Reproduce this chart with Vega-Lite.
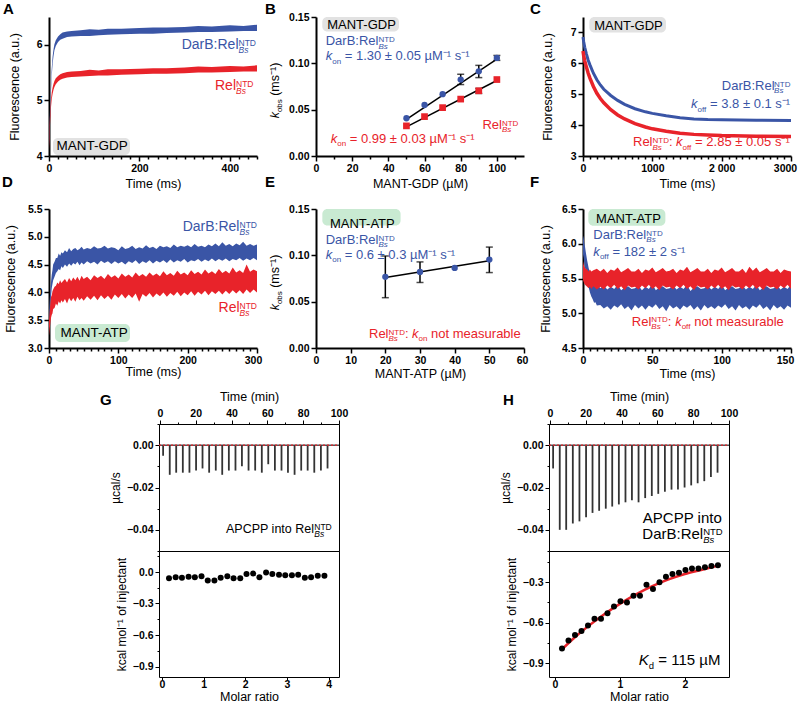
{
"$schema": "https://vega.github.io/schema/vega-lite/v6.json",
"padding": {"left": 2, "top": 2, "right": 0, "bottom": 0},
"background": "white",
"config": {
 "font": "Liberation Sans",
 "view": {"stroke": null},
 "axis": {"domainColor":"#000000","domainWidth":2,"tickColor":"#000000","tickWidth":1.5,"tickSize":5,"labelFont":"Liberation Sans","labelFontWeight":"bold","labelFontSize":10.5,"labelColor":"#000000","labelPadding":2,"labelFlush":false,"labelOverlap":false,"titleFont":"Liberation Sans","titleFontWeight":"normal","titleFontSize":12.5,"titleColor":"#000000","grid":false,"titlePadding":4},
 "title": {"font":"Liberation Sans","fontWeight":"bold","fontSize":15,"anchor":"start","frame":"group","color":"#000000","offset":0,"baseline":"alphabetic"},
 "text": {"font":"Liberation Sans"}
},
"datasets": {
 "Ab": [{"x":0,"y":4.18,"y2":4.32},{"x":2,"y":4.62,"y2":4.78},{"x":4,"y":5.08,"y2":5.22},{"x":6,"y":5.44,"y2":5.57},{"x":8,"y":5.66,"y2":5.79},{"x":10,"y":5.8,"y2":5.92},{"x":12,"y":5.9,"y2":6.01},{"x":15,"y":5.98,"y2":6.08},{"x":20,"y":6.05,"y2":6.15},{"x":25,"y":6.09,"y2":6.19},{"x":30,"y":6.11,"y2":6.22},{"x":40,"y":6.14,"y2":6.24},{"x":50,"y":6.15,"y2":6.25},{"x":70,"y":6.16,"y2":6.26},{"x":90,"y":6.16,"y2":6.28},{"x":110,"y":6.17,"y2":6.27},{"x":130,"y":6.18,"y2":6.29},{"x":160,"y":6.19,"y2":6.29},{"x":200,"y":6.2,"y2":6.3},{"x":230,"y":6.2,"y2":6.31},{"x":260,"y":6.21,"y2":6.31},{"x":300,"y":6.22,"y2":6.32},{"x":330,"y":6.23,"y2":6.34},{"x":360,"y":6.23,"y2":6.33},{"x":400,"y":6.24,"y2":6.35},{"x":430,"y":6.25,"y2":6.34},{"x":460,"y":6.25,"y2":6.36}],
 "Ar": [{"x":0,"y":4.12,"y2":4.3},{"x":2,"y":4.52,"y2":4.7},{"x":4,"y":4.84,"y2":4.98},{"x":6,"y":5.02,"y2":5.14},{"x":8,"y":5.12,"y2":5.23},{"x":10,"y":5.19,"y2":5.3},{"x":12,"y":5.24,"y2":5.35},{"x":15,"y":5.29,"y2":5.4},{"x":20,"y":5.34,"y2":5.44},{"x":25,"y":5.37,"y2":5.47},{"x":30,"y":5.39,"y2":5.49},{"x":40,"y":5.41,"y2":5.51},{"x":50,"y":5.42,"y2":5.52},{"x":70,"y":5.43,"y2":5.53},{"x":90,"y":5.44,"y2":5.55},{"x":110,"y":5.45,"y2":5.54},{"x":130,"y":5.45,"y2":5.56},{"x":160,"y":5.46,"y2":5.56},{"x":200,"y":5.47,"y2":5.57},{"x":230,"y":5.48,"y2":5.58},{"x":260,"y":5.48,"y2":5.58},{"x":300,"y":5.49,"y2":5.59},{"x":330,"y":5.5,"y2":5.61},{"x":360,"y":5.5,"y2":5.6},{"x":400,"y":5.51,"y2":5.62},{"x":430,"y":5.52,"y2":5.61},{"x":460,"y":5.52,"y2":5.63}],
 "Abadge": [{"x":8.8,"x2":179.1,"y":4.018,"y2":4.324}],
 "Al": [
  {"k":"m","s":"DarB","x":293.5,"y":5.924,"txt":"DarB:Rel"},
  {"k":"si","s":"DarB","x":419.1,"y":5.861,"txt":"Bs"},
  {"k":"s","s":"DarB","x":419.1,"y":5.987,"txt":"NTD"},
  {"k":"m","s":"Rel","x":367.1,"y":5.182,"txt":"Rel"},
  {"k":"si","s":"Rel","x":413.6,"y":5.119,"txt":"Bs"},
  {"k":"s","s":"Rel","x":413.6,"y":5.245,"txt":"NTD"},
  {"k":"b","s":"none","x":95.5,"y":4.102,"txt":"MANT-GDP"}],
 "Bb": [{"x":50,"y":0.0407},{"x":60,"y":0.055},{"x":70,"y":0.0667},{"x":80,"y":0.0825},{"x":90,"y":0.0914},{"x":100,"y":0.1058}],
 "Br": [{"x":50,"y":0.0325},{"x":60,"y":0.0425},{"x":70,"y":0.0522},{"x":80,"y":0.0614},{"x":90,"y":0.0704},{"x":100,"y":0.0825}],
 "Bfit": [{"s":"DarB","x":50,"y":0.0395},{"s":"DarB","x":100,"y":0.1045},{"s":"Rel","x":50,"y":0.0315},{"s":"Rel","x":100,"y":0.0815}],
 "Berr": [{"x":80,"y":0.0771,"y2":0.0882},{"x":90,"y":0.0846,"y2":0.0978},{"x":100,"y":0.1032,"y2":0.1085},{"x":90,"y":0.0675,"y2":0.0729}],
 "Bcap": [{"x":80,"y":0.0771},{"x":80,"y":0.0882},{"x":90,"y":0.0846},{"x":90,"y":0.0978},{"x":100,"y":0.1032},{"x":100,"y":0.1085},{"x":90,"y":0.0675},{"x":90,"y":0.0729}],
 "Bbadge": [{"x":3.48,"x2":45.9,"y":0.1343,"y2":0.15}],
 "Bl": [
  {"k":"m","s":"DarB","x":5.36,"y":0.1193,"txt":"DarB:Rel"},
  {"k":"s","s":"DarB","x":34.5,"y":0.1228,"txt":"NTD"},
  {"k":"si","s":"DarB","x":34.5,"y":0.1157,"txt":"Bs"},
  {"k":"i","s":"DarB","x":5.36,"y":0.1032,"txt":"k"},
  {"k":"s","s":"DarB","x":8.96,"y":0.0996,"txt":"on"},
  {"k":"m","s":"DarB","x":15.87,"y":0.1032,"txt":"= 1.30 ± 0.05 µM⁻¹ s⁻¹"},
  {"k":"m","s":"Rel","x":92.0,"y":0.0289,"txt":"Rel"},
  {"k":"s","s":"Rel","x":102.8,"y":0.0325,"txt":"NTD"},
  {"k":"si","s":"Rel","x":102.8,"y":0.0254,"txt":"Bs"},
  {"k":"i","s":"Rel","x":8.13,"y":0.0139,"txt":"k"},
  {"k":"s","s":"Rel","x":11.72,"y":0.0104,"txt":"on"},
  {"k":"m","s":"Rel","x":18.63,"y":0.0139,"txt":"= 0.99 ± 0.03 µM⁻¹ s⁻¹"},
  {"k":"b","s":"none","x":25.16,"y":0.1371,"txt":"MANT-GDP"},
  {"k":"ri","s":"none","x":-20.46,"y":0.0407,"txt":"k"},
  {"k":"rs","s":"none","x":-18.6,"y":0.0474,"txt":"obs"},
  {"k":"rm","s":"none","x":-20.46,"y":0.0649,"txt":"(ms⁻¹)"}],
 "Cb": [{"x":0,"y":6.85},{"x":10,"y":6.7},{"x":25,"y":6.52},{"x":50,"y":6.3},{"x":75,"y":6.1},{"x":100,"y":5.95},{"x":150,"y":5.68},{"x":200,"y":5.47},{"x":250,"y":5.3},{"x":300,"y":5.16},{"x":400,"y":4.96},{"x":500,"y":4.8},{"x":600,"y":4.67},{"x":750,"y":4.53},{"x":900,"y":4.43},{"x":1000,"y":4.38},{"x":1200,"y":4.3},{"x":1400,"y":4.24},{"x":1600,"y":4.2},{"x":1800,"y":4.18},{"x":2000,"y":4.17},{"x":2500,"y":4.16},{"x":3000,"y":4.15}],
 "Cr": [{"x":0,"y":6.4},{"x":10,"y":6.25},{"x":25,"y":6.08},{"x":50,"y":5.87},{"x":75,"y":5.68},{"x":100,"y":5.52},{"x":150,"y":5.25},{"x":200,"y":5.03},{"x":250,"y":4.86},{"x":300,"y":4.72},{"x":400,"y":4.5},{"x":500,"y":4.33},{"x":600,"y":4.2},{"x":750,"y":4.05},{"x":900,"y":3.94},{"x":1000,"y":3.88},{"x":1200,"y":3.8},{"x":1400,"y":3.74},{"x":1600,"y":3.7},{"x":1800,"y":3.68},{"x":2000,"y":3.66},{"x":2500,"y":3.64},{"x":3000,"y":3.63}],
 "Cbadge": [{"x":91,"x2":1197,"y":7.0,"y2":7.5}],
 "Cl": [
  {"k":"m","s":"DarB","x":2003,"y":5.14,"txt":"DarB:Rel"},
  {"k":"s","s":"DarB","x":2756,"y":5.25,"txt":"NTD"},
  {"k":"si","s":"DarB","x":2756,"y":5.03,"txt":"Bs"},
  {"k":"i","s":"DarB","x":1558,"y":4.54,"txt":"k"},
  {"k":"s","s":"DarB","x":1652,"y":4.43,"txt":"off"},
  {"k":"m","s":"DarB","x":1832,"y":4.54,"txt":"= 3.8 ± 0.1 s⁻¹"},
  {"k":"m","s":"Rel","x":721,"y":3.32,"txt":"Rel"},
  {"k":"s","s":"Rel","x":1002,"y":3.43,"txt":"NTD"},
  {"k":"si","s":"Rel","x":1002,"y":3.21,"txt":"Bs"},
  {"k":"m","s":"Rel","x":1239,"y":3.32,"txt":":"},
  {"k":"i","s":"Rel","x":1343,"y":3.32,"txt":"k"},
  {"k":"s","s":"Rel","x":1436,"y":3.21,"txt":"off"},
  {"k":"m","s":"Rel","x":1617,"y":3.32,"txt":"= 2.85 ± 0.05 s⁻¹"},
  {"k":"b","s":"none","x":656,"y":7.08,"txt":"MANT-GDP"}],
 "Db": [{"x":0,"y":3.4,"y2":3.6},{"x":1,"y":3.6,"y2":3.85},{"x":2,"y":3.8,"y2":4.05},{"x":3,"y":3.95,"y2":4.2},{"x":4,"y":4.08,"y2":4.32},{"x":5,"y":4.15,"y2":4.4},{"x":6,"y":4.22,"y2":4.5},{"x":8,"y":4.28,"y2":4.55},{"x":10,"y":4.35,"y2":4.62},{"x":12,"y":4.38,"y2":4.62},{"x":14,"y":4.42,"y2":4.7},{"x":16,"y":4.4,"y2":4.66},{"x":18,"y":4.47,"y2":4.72},{"x":20,"y":4.44,"y2":4.7},{"x":23,"y":4.5,"y2":4.76},{"x":26,"y":4.46,"y2":4.72},{"x":29,"y":4.52,"y2":4.8},{"x":32,"y":4.48,"y2":4.74},{"x":35,"y":4.53,"y2":4.78},{"x":38,"y":4.5,"y2":4.8},{"x":41,"y":4.55,"y2":4.76},{"x":44,"y":4.49,"y2":4.78},{"x":47,"y":4.54,"y2":4.82},{"x":50,"y":4.5,"y2":4.77},{"x":55,"y":4.56,"y2":4.8},{"x":60,"y":4.52,"y2":4.78},{"x":65,"y":4.55,"y2":4.83},{"x":70,"y":4.5,"y2":4.79},{"x":75,"y":4.57,"y2":4.8},{"x":80,"y":4.53,"y2":4.84},{"x":85,"y":4.56,"y2":4.79},{"x":90,"y":4.51,"y2":4.81},{"x":95,"y":4.56,"y2":4.8},{"x":100,"y":4.52,"y2":4.76},{"x":105,"y":4.55,"y2":4.83},{"x":110,"y":4.5,"y2":4.78},{"x":115,"y":4.56,"y2":4.8},{"x":120,"y":4.53,"y2":4.84},{"x":125,"y":4.58,"y2":4.78},{"x":130,"y":4.51,"y2":4.81},{"x":135,"y":4.56,"y2":4.79},{"x":140,"y":4.53,"y2":4.85},{"x":145,"y":4.58,"y2":4.8},{"x":150,"y":4.52,"y2":4.82},{"x":155,"y":4.57,"y2":4.78},{"x":160,"y":4.54,"y2":4.84},{"x":165,"y":4.58,"y2":4.81},{"x":170,"y":4.53,"y2":4.83},{"x":175,"y":4.59,"y2":4.8},{"x":180,"y":4.54,"y2":4.86},{"x":185,"y":4.58,"y2":4.81},{"x":190,"y":4.55,"y2":4.84},{"x":195,"y":4.6,"y2":4.82},{"x":200,"y":4.54,"y2":4.85},{"x":205,"y":4.58,"y2":4.81},{"x":210,"y":4.56,"y2":4.87},{"x":215,"y":4.6,"y2":4.82},{"x":220,"y":4.55,"y2":4.84},{"x":225,"y":4.59,"y2":4.81},{"x":230,"y":4.56,"y2":4.86},{"x":235,"y":4.61,"y2":4.83},{"x":240,"y":4.56,"y2":4.88},{"x":245,"y":4.6,"y2":4.83},{"x":250,"y":4.57,"y2":4.9},{"x":255,"y":4.61,"y2":4.84},{"x":260,"y":4.56,"y2":4.87},{"x":265,"y":4.6,"y2":4.83},{"x":270,"y":4.58,"y2":4.88},{"x":275,"y":4.62,"y2":4.85},{"x":280,"y":4.57,"y2":4.91},{"x":285,"y":4.61,"y2":4.84},{"x":290,"y":4.58,"y2":4.87},{"x":295,"y":4.62,"y2":4.84},{"x":300,"y":4.58,"y2":4.86}],
 "Dr": [{"x":0,"y":3.22,"y2":3.5},{"x":1,"y":3.35,"y2":3.65},{"x":2,"y":3.45,"y2":3.8},{"x":3,"y":3.55,"y2":3.92},{"x":4,"y":3.6,"y2":3.95},{"x":5,"y":3.62,"y2":4.02},{"x":6,"y":3.7,"y2":4.05},{"x":8,"y":3.72,"y2":4.1},{"x":10,"y":3.8,"y2":4.12},{"x":12,"y":3.76,"y2":4.18},{"x":14,"y":3.84,"y2":4.15},{"x":16,"y":3.8,"y2":4.22},{"x":18,"y":3.86,"y2":4.17},{"x":20,"y":3.82,"y2":4.2},{"x":23,"y":3.88,"y2":4.24},{"x":26,"y":3.8,"y2":4.18},{"x":29,"y":3.9,"y2":4.26},{"x":32,"y":3.84,"y2":4.2},{"x":35,"y":3.9,"y2":4.27},{"x":38,"y":3.83,"y2":4.22},{"x":41,"y":3.92,"y2":4.28},{"x":44,"y":3.86,"y2":4.21},{"x":47,"y":3.9,"y2":4.3},{"x":50,"y":3.85,"y2":4.24},{"x":55,"y":3.93,"y2":4.28},{"x":60,"y":3.87,"y2":4.22},{"x":65,"y":3.94,"y2":4.31},{"x":70,"y":3.86,"y2":4.26},{"x":75,"y":3.95,"y2":4.3},{"x":80,"y":3.88,"y2":4.24},{"x":85,"y":3.94,"y2":4.33},{"x":90,"y":3.87,"y2":4.27},{"x":95,"y":3.96,"y2":4.31},{"x":100,"y":3.9,"y2":4.25},{"x":105,"y":3.97,"y2":4.34},{"x":110,"y":3.89,"y2":4.28},{"x":115,"y":3.96,"y2":4.32},{"x":120,"y":3.9,"y2":4.27},{"x":125,"y":3.98,"y2":4.36},{"x":130,"y":3.83,"y2":4.29},{"x":135,"y":3.97,"y2":4.33},{"x":140,"y":3.92,"y2":4.28},{"x":145,"y":3.99,"y2":4.36},{"x":150,"y":3.91,"y2":4.3},{"x":155,"y":3.98,"y2":4.34},{"x":160,"y":3.93,"y2":4.29},{"x":165,"y":4.0,"y2":4.38},{"x":170,"y":3.92,"y2":4.31},{"x":175,"y":3.99,"y2":4.35},{"x":180,"y":3.94,"y2":4.3},{"x":185,"y":4.01,"y2":4.39},{"x":190,"y":3.93,"y2":4.32},{"x":195,"y":4.0,"y2":4.36},{"x":200,"y":3.95,"y2":4.31},{"x":205,"y":4.02,"y2":4.4},{"x":210,"y":3.94,"y2":4.33},{"x":215,"y":4.01,"y2":4.37},{"x":220,"y":3.96,"y2":4.32},{"x":225,"y":4.03,"y2":4.41},{"x":230,"y":3.95,"y2":4.34},{"x":235,"y":4.02,"y2":4.38},{"x":240,"y":3.97,"y2":4.33},{"x":245,"y":4.03,"y2":4.42},{"x":250,"y":3.96,"y2":4.35},{"x":255,"y":4.03,"y2":4.39},{"x":260,"y":3.97,"y2":4.34},{"x":265,"y":4.04,"y2":4.45},{"x":270,"y":3.98,"y2":4.36},{"x":275,"y":4.04,"y2":4.4},{"x":280,"y":3.97,"y2":4.35},{"x":285,"y":4.05,"y2":4.5},{"x":290,"y":3.99,"y2":4.37},{"x":295,"y":4.05,"y2":4.41},{"x":300,"y":4.0,"y2":4.38}],
 "Dbadge": [{"x":8.7,"x2":116.8,"y":3.11,"y2":3.43}],
 "Dl": [
  {"k":"m","s":"DarB","x":192.8,"y":5.10,"txt":"DarB:Rel"},
  {"k":"s","s":"DarB","x":274.8,"y":5.165,"txt":"NTD"},
  {"k":"si","s":"DarB","x":274.8,"y":5.04,"txt":"Bs"},
  {"k":"m","s":"Rel","x":244.5,"y":3.64,"txt":"Rel"},
  {"k":"s","s":"Rel","x":274.8,"y":3.70,"txt":"NTD"},
  {"k":"si","s":"Rel","x":274.8,"y":3.576,"txt":"Bs"},
  {"k":"b","s":"none","x":65.2,"y":3.19,"txt":"MANT-ATP"}],
 "Ep": [{"x":20,"y":0.0768},{"x":30,"y":0.0821},{"x":40,"y":0.0864},{"x":50,"y":0.0954}],
 "Efit": [{"x":20,"y":0.0762},{"x":50,"y":0.0942}],
 "Eerr": [{"x":20,"y":0.0543,"y2":0.0993},{"x":30,"y":0.0707,"y2":0.0929},{"x":50,"y":0.0814,"y2":0.1089}],
 "Ecap": [{"x":20,"y":0.0543},{"x":20,"y":0.0993},{"x":30,"y":0.0707},{"x":30,"y":0.0929},{"x":50,"y":0.0814},{"x":50,"y":0.1089}],
 "Ebadge": [{"x":1.83,"x2":24.4,"y":0.1321,"y2":0.15}],
 "El": [
  {"k":"m","s":"DarB","x":2.80,"y":0.1125,"txt":"DarB:Rel"},
  {"k":"s","s":"DarB","x":18.0,"y":0.116,"txt":"NTD"},
  {"k":"si","s":"DarB","x":18.0,"y":0.109,"txt":"Bs"},
  {"k":"i","s":"DarB","x":2.80,"y":0.0964,"txt":"k"},
  {"k":"s","s":"DarB","x":4.67,"y":0.0929,"txt":"on"},
  {"k":"m","s":"DarB","x":8.28,"y":0.0964,"txt":"= 0.6 ± 0.3 µM⁻¹ s⁻¹"},
  {"k":"m","s":"Rel","x":15.29,"y":0.0107,"txt":"Rel"},
  {"k":"s","s":"Rel","x":20.91,"y":0.0143,"txt":"NTD"},
  {"k":"si","s":"Rel","x":20.91,"y":0.0072,"txt":"Bs"},
  {"k":"m","s":"Rel","x":25.64,"y":0.0107,"txt":":"},
  {"k":"i","s":"Rel","x":27.72,"y":0.0107,"txt":"k"},
  {"k":"s","s":"Rel","x":29.60,"y":0.0072,"txt":"on"},
  {"k":"m","s":"Rel","x":33.2,"y":0.0107,"txt":"not measurable"},
  {"k":"b","s":"none","x":13.36,"y":0.1293,"txt":"MANT-ATP"},
  {"k":"ri","s":"none","x":-10.67,"y":0.0407,"txt":"k"},
  {"k":"rs","s":"none","x":-9.71,"y":0.0474,"txt":"obs"},
  {"k":"rm","s":"none","x":-10.67,"y":0.0649,"txt":"(ms⁻¹)"}],
 "Fb": [{"x":0,"y":5.85,"y2":6.12},{"x":0.5,"y":5.8,"y2":6.08},{"x":1,"y":5.72,"y2":6.0},{"x":1.5,"y":5.65,"y2":5.95},{"x":2,"y":5.58,"y2":5.88},{"x":2.5,"y":5.52,"y2":5.82},{"x":3,"y":5.46,"y2":5.76},{"x":4,"y":5.38,"y2":5.66},{"x":5,"y":5.3,"y2":5.58},{"x":6,"y":5.24,"y2":5.52},{"x":7,"y":5.2,"y2":5.47},{"x":8,"y":5.15,"y2":5.44},{"x":9,"y":5.16,"y2":5.41},{"x":10,"y":5.11,"y2":5.42},{"x":12.5,"y":5.12,"y2":5.36},{"x":15,"y":5.07,"y2":5.4},{"x":17.5,"y":5.1,"y2":5.34},{"x":20,"y":5.05,"y2":5.38},{"x":22.5,"y":5.11,"y2":5.35},{"x":25,"y":5.08,"y2":5.41},{"x":27.5,"y":5.13,"y2":5.33},{"x":30,"y":5.06,"y2":5.37},{"x":32.5,"y":5.1,"y2":5.39},{"x":35,"y":5.04,"y2":5.35},{"x":37.5,"y":5.12,"y2":5.36},{"x":40,"y":5.07,"y2":5.4},{"x":42.5,"y":5.11,"y2":5.33},{"x":45,"y":5.05,"y2":5.38},{"x":47.5,"y":5.11,"y2":5.35},{"x":50,"y":5.08,"y2":5.42},{"x":52.5,"y":5.13,"y2":5.33},{"x":55,"y":5.06,"y2":5.37},{"x":57.5,"y":5.1,"y2":5.39},{"x":60,"y":5.03,"y2":5.35},{"x":62.5,"y":5.12,"y2":5.36},{"x":65,"y":5.07,"y2":5.4},{"x":67.5,"y":5.1,"y2":5.34},{"x":70,"y":5.05,"y2":5.38},{"x":72.5,"y":5.11,"y2":5.35},{"x":75,"y":5.08,"y2":5.41},{"x":77.5,"y":5.12,"y2":5.32},{"x":80,"y":5.05,"y2":5.37},{"x":82.5,"y":5.1,"y2":5.39},{"x":85,"y":5.04,"y2":5.35},{"x":87.5,"y":5.12,"y2":5.36},{"x":90,"y":5.07,"y2":5.4},{"x":92.5,"y":5.1,"y2":5.34},{"x":95,"y":5.06,"y2":5.38},{"x":97.5,"y":5.11,"y2":5.35},{"x":100,"y":5.08,"y2":5.41},{"x":102.5,"y":5.13,"y2":5.33},{"x":105,"y":5.06,"y2":5.37},{"x":107.5,"y":5.1,"y2":5.39},{"x":110,"y":5.04,"y2":5.35},{"x":112.5,"y":5.12,"y2":5.36},{"x":115,"y":5.07,"y2":5.4},{"x":117.5,"y":5.1,"y2":5.34},{"x":120,"y":5.05,"y2":5.38},{"x":122.5,"y":5.11,"y2":5.35},{"x":125,"y":5.08,"y2":5.41},{"x":127.5,"y":5.13,"y2":5.33},{"x":130,"y":5.06,"y2":5.37},{"x":132.5,"y":5.1,"y2":5.39},{"x":135,"y":5.04,"y2":5.35},{"x":137.5,"y":5.12,"y2":5.36},{"x":140,"y":5.07,"y2":5.4},{"x":142.5,"y":5.1,"y2":5.34},{"x":145,"y":5.05,"y2":5.38},{"x":147.5,"y":5.11,"y2":5.35},{"x":150,"y":5.08,"y2":5.41}],
 "Fr": [{"x":0,"y":5.48,"y2":5.75},{"x":0.5,"y":5.45,"y2":5.7},{"x":1,"y":5.42,"y2":5.67},{"x":2,"y":5.4,"y2":5.64},{"x":3,"y":5.38,"y2":5.63},{"x":4,"y":5.36,"y2":5.6},{"x":5,"y":5.38,"y2":5.63},{"x":6,"y":5.35,"y2":5.6},{"x":7.5,"y":5.39,"y2":5.62},{"x":10,"y":5.34,"y2":5.64},{"x":12.5,"y":5.38,"y2":5.6},{"x":15,"y":5.34,"y2":5.64},{"x":17.5,"y":5.4,"y2":5.58},{"x":20,"y":5.36,"y2":5.63},{"x":22.5,"y":5.41,"y2":5.61},{"x":25,"y":5.35,"y2":5.66},{"x":27.5,"y":5.39,"y2":5.59},{"x":30,"y":5.33,"y2":5.62},{"x":32.5,"y":5.4,"y2":5.65},{"x":35,"y":5.37,"y2":5.6},{"x":37.5,"y":5.38,"y2":5.6},{"x":40,"y":5.34,"y2":5.64},{"x":42.5,"y":5.4,"y2":5.58},{"x":45,"y":5.36,"y2":5.63},{"x":47.5,"y":5.41,"y2":5.61},{"x":50,"y":5.35,"y2":5.66},{"x":52.5,"y":5.39,"y2":5.59},{"x":55,"y":5.33,"y2":5.62},{"x":57.5,"y":5.4,"y2":5.65},{"x":60,"y":5.37,"y2":5.6},{"x":62.5,"y":5.38,"y2":5.61},{"x":65,"y":5.34,"y2":5.64},{"x":67.5,"y":5.4,"y2":5.58},{"x":70,"y":5.36,"y2":5.63},{"x":72.5,"y":5.41,"y2":5.61},{"x":75,"y":5.35,"y2":5.67},{"x":77.5,"y":5.39,"y2":5.59},{"x":80,"y":5.33,"y2":5.62},{"x":82.5,"y":5.4,"y2":5.65},{"x":85,"y":5.37,"y2":5.6},{"x":87.5,"y":5.38,"y2":5.6},{"x":90,"y":5.34,"y2":5.64},{"x":92.5,"y":5.4,"y2":5.58},{"x":95,"y":5.36,"y2":5.63},{"x":97.5,"y":5.41,"y2":5.61},{"x":100,"y":5.35,"y2":5.66},{"x":102.5,"y":5.39,"y2":5.59},{"x":105,"y":5.33,"y2":5.62},{"x":107.5,"y":5.4,"y2":5.65},{"x":110,"y":5.37,"y2":5.6},{"x":112.5,"y":5.38,"y2":5.6},{"x":115,"y":5.34,"y2":5.64},{"x":117.5,"y":5.4,"y2":5.58},{"x":120,"y":5.36,"y2":5.67},{"x":122.5,"y":5.41,"y2":5.61},{"x":125,"y":5.35,"y2":5.66},{"x":127.5,"y":5.39,"y2":5.59},{"x":130,"y":5.33,"y2":5.62},{"x":132.5,"y":5.4,"y2":5.65},{"x":135,"y":5.37,"y2":5.6},{"x":137.5,"y":5.38,"y2":5.6},{"x":140,"y":5.34,"y2":5.64},{"x":142.5,"y":5.4,"y2":5.58},{"x":145,"y":5.36,"y2":5.63},{"x":147.5,"y":5.41,"y2":5.61},{"x":150,"y":5.35,"y2":5.6}],
 "Fbadge": [{"x":3.84,"x2":59.4,"y":6.26,"y2":6.5}],
 "Fl": [
  {"k":"m","s":"DarB","x":7.47,"y":6.068,"txt":"DarB:Rel"},
  {"k":"s","s":"DarB","x":45.65,"y":6.116,"txt":"NTD"},
  {"k":"si","s":"DarB","x":45.65,"y":6.02,"txt":"Bs"},
  {"k":"i","s":"DarB","x":7.47,"y":5.828,"txt":"k"},
  {"k":"s","s":"DarB","x":12.17,"y":5.78,"txt":"off"},
  {"k":"m","s":"DarB","x":21.23,"y":5.828,"txt":"= 182 ± 2 s⁻¹"},
  {"k":"m","s":"Rel","x":35.2,"y":4.821,"txt":"Rel"},
  {"k":"s","s":"Rel","x":49.3,"y":4.868,"txt":"NTD"},
  {"k":"si","s":"Rel","x":49.3,"y":4.773,"txt":"Bs"},
  {"k":"m","s":"Rel","x":61.2,"y":4.821,"txt":":"},
  {"k":"i","s":"Rel","x":66.45,"y":4.821,"txt":"k"},
  {"k":"s","s":"Rel","x":71.16,"y":4.773,"txt":"off"},
  {"k":"m","s":"Rel","x":80.2,"y":4.821,"txt":"not measurable"},
  {"k":"b","s":"none","x":32.8,"y":6.30,"txt":"MANT-ATP"}],
 "base": [{"x":-0.5,"y":0},{"x":100,"y":0}],
 "Gs": [{"x":1.8,"y":-0.005},{"x":5.5,"y":-0.014},{"x":9.1,"y":-0.013},{"x":12.8,"y":-0.013},{"x":16.5,"y":-0.013},{"x":20.2,"y":-0.012},{"x":23.8,"y":-0.011},{"x":27.5,"y":-0.013},{"x":31.2,"y":-0.012},{"x":34.8,"y":-0.014},{"x":38.5,"y":-0.012},{"x":42.2,"y":-0.012},{"x":45.8,"y":-0.010},{"x":49.5,"y":-0.012},{"x":53.2,"y":-0.012},{"x":56.9,"y":-0.013},{"x":60.5,"y":-0.009},{"x":64.2,"y":-0.012},{"x":67.9,"y":-0.012},{"x":71.5,"y":-0.013},{"x":75.2,"y":-0.014},{"x":78.9,"y":-0.012},{"x":82.5,"y":-0.012},{"x":86.2,"y":-0.013},{"x":89.9,"y":-0.012},{"x":93.6,"y":-0.011}],
 "Hs": [{"x":1.8,"y":-0.011},{"x":5.5,"y":-0.040},{"x":9.1,"y":-0.040},{"x":12.8,"y":-0.037},{"x":16.5,"y":-0.036},{"x":20.2,"y":-0.034},{"x":23.8,"y":-0.032},{"x":27.5,"y":-0.031},{"x":31.2,"y":-0.030},{"x":34.8,"y":-0.029},{"x":38.5,"y":-0.028},{"x":42.2,"y":-0.027},{"x":45.8,"y":-0.026},{"x":49.5,"y":-0.027},{"x":53.2,"y":-0.025},{"x":56.9,"y":-0.024},{"x":60.5,"y":-0.023},{"x":64.2,"y":-0.022},{"x":67.9,"y":-0.021},{"x":71.5,"y":-0.021},{"x":75.2,"y":-0.020},{"x":78.9,"y":-0.019},{"x":82.5,"y":-0.018},{"x":86.2,"y":-0.017},{"x":89.9,"y":-0.015},{"x":93.6,"y":-0.013}],
 "Gl": [
  {"k":"m","x":36.9,"y":-0.0416,"txt":"APCPP into Rel"},
  {"k":"s","x":86.2,"y":-0.0401,"txt":"NTD"},
  {"k":"si","x":86.2,"y":-0.0432,"txt":"Bs"}],
 "Hl": [
  {"k":"m","x":51.9,"y":-0.0366,"txt":"APCPP into"},
  {"k":"m","x":51.6,"y":-0.0444,"txt":"DarB:Rel"},
  {"k":"s","x":85.6,"y":-0.0426,"txt":"NTD"},
  {"k":"si","x":85.6,"y":-0.0464,"txt":"Bs"}],
 "Gp": [{"x":0.17,"y":-0.06},{"x":0.33,"y":-0.05},{"x":0.48,"y":-0.055},{"x":0.64,"y":-0.045},{"x":0.79,"y":-0.05},{"x":0.95,"y":-0.04},{"x":1.1,"y":-0.08},{"x":1.26,"y":-0.08},{"x":1.41,"y":-0.055},{"x":1.57,"y":-0.04},{"x":1.72,"y":-0.06},{"x":1.88,"y":-0.06},{"x":2.03,"y":-0.02},{"x":2.19,"y":-0.015},{"x":2.34,"y":-0.05},{"x":2.5,"y":-0.005},{"x":2.65,"y":-0.02},{"x":2.81,"y":-0.025},{"x":2.96,"y":-0.03},{"x":3.12,"y":-0.03},{"x":3.27,"y":-0.025},{"x":3.43,"y":-0.055},{"x":3.58,"y":-0.05},{"x":3.74,"y":-0.035},{"x":3.9,"y":-0.035}],
 "Hp": [{"x":0.11,"y":-0.79},{"x":0.21,"y":-0.73},{"x":0.31,"y":-0.69},{"x":0.41,"y":-0.66},{"x":0.51,"y":-0.62},{"x":0.61,"y":-0.57},{"x":0.71,"y":-0.57},{"x":0.81,"y":-0.53},{"x":0.91,"y":-0.48},{"x":1.01,"y":-0.44},{"x":1.11,"y":-0.45},{"x":1.21,"y":-0.4},{"x":1.31,"y":-0.4},{"x":1.41,"y":-0.32},{"x":1.51,"y":-0.35},{"x":1.61,"y":-0.3},{"x":1.71,"y":-0.26},{"x":1.81,"y":-0.24},{"x":1.91,"y":-0.23},{"x":2.01,"y":-0.21},{"x":2.11,"y":-0.2},{"x":2.21,"y":-0.2},{"x":2.31,"y":-0.19},{"x":2.41,"y":-0.18},{"x":2.51,"y":-0.175}],
 "Hfit": [{"x":0.1,"y":-0.8},{"x":0.3,"y":-0.71},{"x":0.5,"y":-0.63},{"x":0.75,"y":-0.54},{"x":1.0,"y":-0.46},{"x":1.25,"y":-0.39},{"x":1.5,"y":-0.33},{"x":1.75,"y":-0.28},{"x":2.0,"y":-0.24},{"x":2.25,"y":-0.21},{"x":2.5,"y":-0.18}],
 "Hkd": [
  {"k":"i","x":1.291,"y":-0.91,"txt":"K"},
  {"k":"s","x":1.445,"y":-0.939,"txt":"d"},
  {"k":"m","x":1.591,"y":-0.91,"txt":"= 115 µM"}]
},
"vconcat": [
 {"concat": [
   {"width":208,"height":139,"title":{"text":"A","dx":-46,"dy":4},
    "encoding":{
     "x":{"field":"x","type":"quantitative","scale":{"domain":[0,460],"nice":false,"zero":false},"axis":{"title":"Time (ms)","values":[0,20,40,60,80,100,120,140,160,180,200,220,240,260,280,300,320,340,360,380,400,420,440,460],"format":"d","labelExpr":"datum.value % 200 === 0 ? datum.label : ''","tickSize":{"condition":{"test":"datum.value % 200 === 0","value":5},"value":3}}},
     "y":{"field":"y","type":"quantitative","scale":{"domain":[4,6.5],"nice":false,"zero":false},"axis":{"title":"Fluorescence (a.u.)","titlePadding":15,"values":[4,5,6],"format":"d"}}},
    "layer":[
     {"data":{"name":"Ab"},"mark":{"type":"area","color":"#3a55a6"},"encoding":{"y2":{"field":"y2"}}},
     {"data":{"name":"Ar"},"mark":{"type":"area","color":"#e8232a"},"encoding":{"y2":{"field":"y2"}}},
     {"data":{"name":"Abadge"},"mark":{"type":"rect","color":"#e2e2e2","cornerRadius":5},"encoding":{"x2":{"field":"x2"},"y2":{"field":"y2"}}},
     {"data":{"name":"Al"},"transform":[{"filter":"datum.k === 'b'"}],"mark":{"type":"text","align":"center","baseline":"alphabetic","fontSize":13.5,"color":"#000000"},"encoding":{"text":{"field":"txt","type":"nominal"}}},
     {"data":{"name":"Al"},"transform":[{"filter":"datum.k === 'm'"}],"mark":{"type":"text","align":"left","baseline":"alphabetic","fontSize":14},"encoding":{"text":{"field":"txt","type":"nominal"},"color":{"field":"s","type":"nominal","scale":{"domain":["DarB","Rel","none"],"range":["#3a55a6","#e8232a","#000000"]},"legend":null}}},
     {"data":{"name":"Al"},"transform":[{"filter":"datum.k === 's'"}],"mark":{"type":"text","align":"left","baseline":"alphabetic","fontSize":8.5},"encoding":{"text":{"field":"txt","type":"nominal"},"color":{"field":"s","type":"nominal","scale":{"domain":["DarB","Rel","none"],"range":["#3a55a6","#e8232a","#000000"]},"legend":null}}},
     {"data":{"name":"Al"},"transform":[{"filter":"datum.k === 'si'"}],"mark":{"type":"text","align":"left","baseline":"alphabetic","fontSize":8.5,"fontStyle":"italic"},"encoding":{"text":{"field":"txt","type":"nominal"},"color":{"field":"s","type":"nominal","scale":{"domain":["DarB","Rel","none"],"range":["#3a55a6","#e8232a","#000000"]},"legend":null}}}
    ]},
   {"width":208,"height":139,"title":{"text":"B","dx":-51,"dy":9},
    "encoding":{
     "x":{"field":"x","type":"quantitative","scale":{"domain":[0,115],"nice":false,"zero":false},"axis":{"title":"MANT-GDP (µM)","values":[0,10,20,30,40,50,60,70,80,90,100,110],"format":"d","labelExpr":"datum.value % 20 === 0 ? datum.label : ''","tickSize":{"condition":{"test":"datum.value % 20 === 0","value":5},"value":3}}},
     "y":{"field":"y","type":"quantitative","scale":{"domain":[0,0.15],"nice":false,"zero":false},"axis":{"title":null,"values":[0,0.05,0.1,0.15],"format":".2f"}}},
    "layer":[
     {"data":{"name":"Bbadge"},"mark":{"type":"rect","color":"#e2e2e2","cornerRadius":5},"encoding":{"x2":{"field":"x2"},"y2":{"field":"y2"}}},
     {"data":{"name":"Bl"},"transform":[{"filter":"datum.k === 'b'"}],"mark":{"type":"text","align":"center","baseline":"alphabetic","fontSize":13,"color":"#000000"},"encoding":{"text":{"field":"txt","type":"nominal"}}},
     {"data":{"name":"Bfit"},"mark":{"type":"line","color":"#000000","strokeWidth":1.5},"encoding":{"detail":{"field":"s","type":"nominal"}}},
     {"data":{"name":"Berr"},"mark":{"type":"rule","color":"#000000","strokeWidth":1.5},"encoding":{"y2":{"field":"y2"}}},
     {"data":{"name":"Bcap"},"mark":{"type":"tick","orient":"horizontal","size":7,"thickness":1.5,"color":"#000000"}},
     {"data":{"name":"Bb"},"mark":{"type":"point","shape":"circle","filled":true,"size":40,"color":"#3a55a6","opacity":1}},
     {"data":{"name":"Br"},"mark":{"type":"point","shape":"square","filled":true,"size":45,"color":"#e8232a","opacity":1}},
     {"data":{"name":"Bl"},"transform":[{"filter":"datum.k === 'm'"}],"mark":{"type":"text","align":"left","baseline":"alphabetic","fontSize":13},"encoding":{"text":{"field":"txt","type":"nominal"},"color":{"field":"s","type":"nominal","scale":{"domain":["DarB","Rel","none"],"range":["#3a55a6","#e8232a","#000000"]},"legend":null}}},
     {"data":{"name":"Bl"},"transform":[{"filter":"datum.k === 'i'"}],"mark":{"type":"text","align":"left","baseline":"alphabetic","fontSize":13,"fontStyle":"italic"},"encoding":{"text":{"field":"txt","type":"nominal"},"color":{"field":"s","type":"nominal","scale":{"domain":["DarB","Rel","none"],"range":["#3a55a6","#e8232a","#000000"]},"legend":null}}},
     {"data":{"name":"Bl"},"transform":[{"filter":"datum.k === 's'"}],"mark":{"type":"text","align":"left","baseline":"alphabetic","fontSize":8},"encoding":{"text":{"field":"txt","type":"nominal"},"color":{"field":"s","type":"nominal","scale":{"domain":["DarB","Rel","none"],"range":["#3a55a6","#e8232a","#000000"]},"legend":null}}},
     {"data":{"name":"Bl"},"transform":[{"filter":"datum.k === 'si'"}],"mark":{"type":"text","align":"left","baseline":"alphabetic","fontSize":8,"fontStyle":"italic"},"encoding":{"text":{"field":"txt","type":"nominal"},"color":{"field":"s","type":"nominal","scale":{"domain":["DarB","Rel","none"],"range":["#3a55a6","#e8232a","#000000"]},"legend":null}}},
     {"data":{"name":"Bl"},"transform":[{"filter":"datum.k === 'ri'"}],"mark":{"type":"text","align":"left","baseline":"alphabetic","angle":270,"fontSize":12.5,"fontStyle":"italic","color":"#000000"},"encoding":{"text":{"field":"txt","type":"nominal"}}},
     {"data":{"name":"Bl"},"transform":[{"filter":"datum.k === 'rs'"}],"mark":{"type":"text","align":"left","baseline":"alphabetic","angle":270,"fontSize":8,"color":"#000000"},"encoding":{"text":{"field":"txt","type":"nominal"}}},
     {"data":{"name":"Bl"},"transform":[{"filter":"datum.k === 'rm'"}],"mark":{"type":"text","align":"left","baseline":"alphabetic","angle":270,"fontSize":12.5,"color":"#000000"},"encoding":{"text":{"field":"txt","type":"nominal"}}}
    ]},
   {"width":208,"height":139,"title":{"text":"C","dx":-53,"dy":4},
    "encoding":{
     "x":{"field":"x","type":"quantitative","scale":{"domain":[0,3000],"nice":false,"zero":false},"axis":{"title":"Time (ms)","values":[0,100,200,300,400,500,600,700,800,900,1000,1100,1200,1300,1400,1500,1600,1700,1800,1900,2000,2100,2200,2300,2400,2500,2600,2700,2800,2900,3000],"format":"d","labelExpr":"datum.value === 2000 ? '2 000' : (datum.value % 1000 === 0 ? datum.label : '')","labelOffset":{"condition":{"test":"datum.value === 3000","value":-6},"value":0},"tickSize":{"condition":{"test":"datum.value % 1000 === 0","value":5},"value":3}}},
     "y":{"field":"y","type":"quantitative","scale":{"domain":[3,7.5],"nice":false,"zero":false},"axis":{"title":"Fluorescence (a.u.)","titlePadding":16,"values":[3,4,5,6,7],"format":"d"}}},
    "layer":[
     {"data":{"name":"Cbadge"},"mark":{"type":"rect","color":"#e2e2e2","cornerRadius":5},"encoding":{"x2":{"field":"x2"},"y2":{"field":"y2"}}},
     {"data":{"name":"Cl"},"transform":[{"filter":"datum.k === 'b'"}],"mark":{"type":"text","align":"center","baseline":"alphabetic","fontSize":13,"color":"#000000"},"encoding":{"text":{"field":"txt","type":"nominal"}}},
     {"data":{"name":"Cb"},"mark":{"type":"line","color":"#3a55a6","strokeWidth":3}},
     {"data":{"name":"Cr"},"mark":{"type":"line","color":"#e8232a","strokeWidth":3.5}},
     {"data":{"name":"Cl"},"transform":[{"filter":"datum.k === 'm'"}],"mark":{"type":"text","align":"left","baseline":"alphabetic","fontSize":13},"encoding":{"text":{"field":"txt","type":"nominal"},"color":{"field":"s","type":"nominal","scale":{"domain":["DarB","Rel","none"],"range":["#3a55a6","#e8232a","#000000"]},"legend":null}}},
     {"data":{"name":"Cl"},"transform":[{"filter":"datum.k === 'i'"}],"mark":{"type":"text","align":"left","baseline":"alphabetic","fontSize":13,"fontStyle":"italic"},"encoding":{"text":{"field":"txt","type":"nominal"},"color":{"field":"s","type":"nominal","scale":{"domain":["DarB","Rel","none"],"range":["#3a55a6","#e8232a","#000000"]},"legend":null}}},
     {"data":{"name":"Cl"},"transform":[{"filter":"datum.k === 's'"}],"mark":{"type":"text","align":"left","baseline":"alphabetic","fontSize":8},"encoding":{"text":{"field":"txt","type":"nominal"},"color":{"field":"s","type":"nominal","scale":{"domain":["DarB","Rel","none"],"range":["#3a55a6","#e8232a","#000000"]},"legend":null}}},
     {"data":{"name":"Cl"},"transform":[{"filter":"datum.k === 'si'"}],"mark":{"type":"text","align":"left","baseline":"alphabetic","fontSize":8,"fontStyle":"italic"},"encoding":{"text":{"field":"txt","type":"nominal"},"color":{"field":"s","type":"nominal","scale":{"domain":["DarB","Rel","none"],"range":["#3a55a6","#e8232a","#000000"]},"legend":null}}}
    ]},
   {"width":208,"height":139,"title":{"text":"D","dx":-47,"dy":-10},
    "encoding":{
     "x":{"field":"x","type":"quantitative","scale":{"domain":[0,300],"nice":false,"zero":false},"axis":{"title":"Time (ms)","titlePadding":0,"values":[0,10,20,30,40,50,60,70,80,90,100,110,120,130,140,150,160,170,180,190,200,210,220,230,240,250,260,270,280,290,300],"format":"d","labelExpr":"datum.value % 100 === 0 ? datum.label : ''","labelOffset":{"condition":{"test":"datum.value === 300","value":-4},"value":0},"tickSize":{"condition":{"test":"datum.value % 100 === 0","value":5},"value":3}}},
     "y":{"field":"y","type":"quantitative","scale":{"domain":[3,5.5],"nice":false,"zero":false},"axis":{"title":"Fluorescence (a.u.)","titlePadding":10,"values":[3,3.5,4,4.5,5,5.5],"format":".1f"}}},
    "layer":[
     {"data":{"name":"Db"},"mark":{"type":"area","color":"#3a55a6"},"encoding":{"y2":{"field":"y2"}}},
     {"data":{"name":"Dr"},"mark":{"type":"area","color":"#e8232a"},"encoding":{"y2":{"field":"y2"}}},
     {"data":{"name":"Dbadge"},"mark":{"type":"rect","color":"#c9ead2","cornerRadius":5},"encoding":{"x2":{"field":"x2"},"y2":{"field":"y2"}}},
     {"data":{"name":"Dl"},"transform":[{"filter":"datum.k === 'b'"}],"mark":{"type":"text","align":"center","baseline":"alphabetic","fontSize":13.5,"color":"#000000"},"encoding":{"text":{"field":"txt","type":"nominal"}}},
     {"data":{"name":"Dl"},"transform":[{"filter":"datum.k === 'm'"}],"mark":{"type":"text","align":"left","baseline":"alphabetic","fontSize":14},"encoding":{"text":{"field":"txt","type":"nominal"},"color":{"field":"s","type":"nominal","scale":{"domain":["DarB","Rel","none"],"range":["#3a55a6","#e8232a","#000000"]},"legend":null}}},
     {"data":{"name":"Dl"},"transform":[{"filter":"datum.k === 's'"}],"mark":{"type":"text","align":"left","baseline":"alphabetic","fontSize":8.5},"encoding":{"text":{"field":"txt","type":"nominal"},"color":{"field":"s","type":"nominal","scale":{"domain":["DarB","Rel","none"],"range":["#3a55a6","#e8232a","#000000"]},"legend":null}}},
     {"data":{"name":"Dl"},"transform":[{"filter":"datum.k === 'si'"}],"mark":{"type":"text","align":"left","baseline":"alphabetic","fontSize":8.5,"fontStyle":"italic"},"encoding":{"text":{"field":"txt","type":"nominal"},"color":{"field":"s","type":"nominal","scale":{"domain":["DarB","Rel","none"],"range":["#3a55a6","#e8232a","#000000"]},"legend":null}}}
    ]},
   {"width":208,"height":139,"title":{"text":"E","dx":-51,"dy":-10},
    "encoding":{
     "x":{"field":"x","type":"quantitative","scale":{"domain":[0,60],"nice":false,"zero":false},"axis":{"title":"MANT-ATP (µM)","titlePadding":2,"values":[0,10,20,30,40,50,60],"format":"d","labelOffset":{"condition":{"test":"datum.value === 60","value":-2},"value":0}}},
     "y":{"field":"y","type":"quantitative","scale":{"domain":[0,0.15],"nice":false,"zero":false},"axis":{"title":null,"values":[0,0.05,0.1,0.15],"format":".2f"}}},
    "layer":[
     {"data":{"name":"Ebadge"},"mark":{"type":"rect","color":"#c9ead2","cornerRadius":5},"encoding":{"x2":{"field":"x2"},"y2":{"field":"y2"}}},
     {"data":{"name":"El"},"transform":[{"filter":"datum.k === 'b'"}],"mark":{"type":"text","align":"center","baseline":"alphabetic","fontSize":13,"color":"#000000"},"encoding":{"text":{"field":"txt","type":"nominal"}}},
     {"data":{"name":"Efit"},"mark":{"type":"line","color":"#000000","strokeWidth":1.5}},
     {"data":{"name":"Eerr"},"mark":{"type":"rule","color":"#000000","strokeWidth":1.5},"encoding":{"y2":{"field":"y2"}}},
     {"data":{"name":"Ecap"},"mark":{"type":"tick","orient":"horizontal","size":7,"thickness":1.5,"color":"#000000"}},
     {"data":{"name":"Ep"},"mark":{"type":"point","shape":"circle","filled":true,"size":40,"color":"#3a55a6","opacity":1}},
     {"data":{"name":"El"},"transform":[{"filter":"datum.k === 'm'"}],"mark":{"type":"text","align":"left","baseline":"alphabetic","fontSize":13},"encoding":{"text":{"field":"txt","type":"nominal"},"color":{"field":"s","type":"nominal","scale":{"domain":["DarB","Rel","none"],"range":["#3a55a6","#e8232a","#000000"]},"legend":null}}},
     {"data":{"name":"El"},"transform":[{"filter":"datum.k === 'i'"}],"mark":{"type":"text","align":"left","baseline":"alphabetic","fontSize":13,"fontStyle":"italic"},"encoding":{"text":{"field":"txt","type":"nominal"},"color":{"field":"s","type":"nominal","scale":{"domain":["DarB","Rel","none"],"range":["#3a55a6","#e8232a","#000000"]},"legend":null}}},
     {"data":{"name":"El"},"transform":[{"filter":"datum.k === 's'"}],"mark":{"type":"text","align":"left","baseline":"alphabetic","fontSize":8},"encoding":{"text":{"field":"txt","type":"nominal"},"color":{"field":"s","type":"nominal","scale":{"domain":["DarB","Rel","none"],"range":["#3a55a6","#e8232a","#000000"]},"legend":null}}},
     {"data":{"name":"El"},"transform":[{"filter":"datum.k === 'si'"}],"mark":{"type":"text","align":"left","baseline":"alphabetic","fontSize":8,"fontStyle":"italic"},"encoding":{"text":{"field":"txt","type":"nominal"},"color":{"field":"s","type":"nominal","scale":{"domain":["DarB","Rel","none"],"range":["#3a55a6","#e8232a","#000000"]},"legend":null}}},
     {"data":{"name":"El"},"transform":[{"filter":"datum.k === 'ri'"}],"mark":{"type":"text","align":"left","baseline":"alphabetic","angle":270,"fontSize":12.5,"fontStyle":"italic","color":"#000000"},"encoding":{"text":{"field":"txt","type":"nominal"}}},
     {"data":{"name":"El"},"transform":[{"filter":"datum.k === 'rs'"}],"mark":{"type":"text","align":"left","baseline":"alphabetic","angle":270,"fontSize":8,"color":"#000000"},"encoding":{"text":{"field":"txt","type":"nominal"}}},
     {"data":{"name":"El"},"transform":[{"filter":"datum.k === 'rm'"}],"mark":{"type":"text","align":"left","baseline":"alphabetic","angle":270,"fontSize":12.5,"color":"#000000"},"encoding":{"text":{"field":"txt","type":"nominal"}}}
    ]},
   {"width":208,"height":139,"title":{"text":"F","dx":-53,"dy":-10},
    "encoding":{
     "x":{"field":"x","type":"quantitative","scale":{"domain":[0,150],"nice":false,"zero":false},"axis":{"title":"Time (ms)","titlePadding":2,"values":[0,5,10,15,20,25,30,35,40,45,50,55,60,65,70,75,80,85,90,95,100,105,110,115,120,125,130,135,140,145,150],"format":"d","labelExpr":"datum.value % 50 === 0 ? datum.label : ''","labelOffset":{"condition":{"test":"datum.value === 150","value":-6},"value":0},"tickSize":{"condition":{"test":"datum.value % 50 === 0","value":5},"value":3}}},
     "y":{"field":"y","type":"quantitative","scale":{"domain":[4.5,6.5],"nice":false,"zero":false},"axis":{"title":"Fluorescence (a.u.)","titlePadding":9,"values":[4.5,5,5.5,6,6.5],"format":".1f"}}},
    "layer":[
     {"data":{"name":"Fb"},"mark":{"type":"area","color":"#3a55a6"},"encoding":{"y2":{"field":"y2"}}},
     {"data":{"name":"Fr"},"mark":{"type":"area","color":"#e8232a"},"encoding":{"y2":{"field":"y2"}}},
     {"data":{"name":"Fbadge"},"mark":{"type":"rect","color":"#c9ead2","cornerRadius":5},"encoding":{"x2":{"field":"x2"},"y2":{"field":"y2"}}},
     {"data":{"name":"Fl"},"transform":[{"filter":"datum.k === 'b'"}],"mark":{"type":"text","align":"center","baseline":"alphabetic","fontSize":13,"color":"#000000"},"encoding":{"text":{"field":"txt","type":"nominal"}}},
     {"data":{"name":"Fl"},"transform":[{"filter":"datum.k === 'm'"}],"mark":{"type":"text","align":"left","baseline":"alphabetic","fontSize":13},"encoding":{"text":{"field":"txt","type":"nominal"},"color":{"field":"s","type":"nominal","scale":{"domain":["DarB","Rel","none"],"range":["#3a55a6","#e8232a","#000000"]},"legend":null}}},
     {"data":{"name":"Fl"},"transform":[{"filter":"datum.k === 'i'"}],"mark":{"type":"text","align":"left","baseline":"alphabetic","fontSize":13,"fontStyle":"italic"},"encoding":{"text":{"field":"txt","type":"nominal"},"color":{"field":"s","type":"nominal","scale":{"domain":["DarB","Rel","none"],"range":["#3a55a6","#e8232a","#000000"]},"legend":null}}},
     {"data":{"name":"Fl"},"transform":[{"filter":"datum.k === 's'"}],"mark":{"type":"text","align":"left","baseline":"alphabetic","fontSize":8},"encoding":{"text":{"field":"txt","type":"nominal"},"color":{"field":"s","type":"nominal","scale":{"domain":["DarB","Rel","none"],"range":["#3a55a6","#e8232a","#000000"]},"legend":null}}},
     {"data":{"name":"Fl"},"transform":[{"filter":"datum.k === 'si'"}],"mark":{"type":"text","align":"left","baseline":"alphabetic","fontSize":8,"fontStyle":"italic"},"encoding":{"text":{"field":"txt","type":"nominal"},"color":{"field":"s","type":"nominal","scale":{"domain":["DarB","Rel","none"],"range":["#3a55a6","#e8232a","#000000"]},"legend":null}}}
    ]}
  ], "columns": 3, "spacing": {"row": 53, "column": 59}, "bounds": "flush"},
 {"concat": [
   {"width": 50, "height": 127, "data": {"values": []}, "mark": "point", "view": {"fill": "#ffffff", "stroke": null}},
   {"width":180,"height":127,"title":{"text":"G","dx":-59,"dy":22},"view":{"stroke":"#000000","strokeWidth":1},
     "encoding":{
      "x":{"field":"x","type":"quantitative","scale":{"domain":[-0.5,100],"nice":false,"zero":false},"axis":{"orient":"top","title":"Time (min)","titlePadding":5,"domain":false,"tickWidth":1,"values":[0,10,20,30,40,50,60,70,80,90,100],"format":"d","labelExpr":"datum.value % 20 === 0 ? datum.label : ''","tickSize":{"condition":{"test":"datum.value % 20 === 0","value":4},"value":2}}},
      "y":{"field":"y","type":"quantitative","scale":{"domain":[-0.05,0.01],"nice":false,"zero":false},"axis":{"title":"µcal/s","titleFontSize":12,"domain":false,"tickWidth":1,"values":[0.01,0,-0.01,-0.02,-0.03,-0.04,-0.05],"format":".2f","labelExpr":"abs(round(datum.value*1000)) % 20 === 0 ? datum.label : ''","tickSize":{"condition":{"test":"abs(round(datum.value*1000)) % 20 === 0","value":4},"value":2}}}},
     "layer":[
      {"data":{"name":"base"},"mark":{"type":"line","color":"#000000","strokeWidth":1}},
      {"data":{"name":"Gs"},"mark":{"type":"rule","color":"#333333","strokeWidth":1.8},"encoding":{"y2":{"datum":0}}},
      {"data":{"name":"base"},"mark":{"type":"line","color":"#e8232a","strokeWidth":1.2,"strokeDash":[2,2]}},
      {"data":{"name":"Gl"},"transform":[{"filter":"datum.k === 'm'"}],"mark":{"type":"text","align":"left","baseline":"alphabetic","fontSize":12.5,"color":"#000000"},"encoding":{"text":{"field":"txt","type":"nominal"}}},
      {"data":{"name":"Gl"},"transform":[{"filter":"datum.k === 's'"}],"mark":{"type":"text","align":"left","baseline":"alphabetic","fontSize":8.5,"color":"#000000"},"encoding":{"text":{"field":"txt","type":"nominal"}}},
      {"data":{"name":"Gl"},"transform":[{"filter":"datum.k === 'si'"}],"mark":{"type":"text","align":"left","baseline":"alphabetic","fontSize":8.5,"fontStyle":"italic","color":"#000000"},"encoding":{"text":{"field":"txt","type":"nominal"}}}
     ]},
   {"width": 90, "height": 127, "data": {"values": []}, "mark": "point"},
   {"width":180,"height":127,"title":{"text":"H","dx":-46,"dy":22},"view":{"stroke":"#000000","strokeWidth":1},
     "encoding":{
      "x":{"field":"x","type":"quantitative","scale":{"domain":[-0.5,100],"nice":false,"zero":false},"axis":{"orient":"top","title":"Time (min)","titlePadding":5,"domain":false,"tickWidth":1,"values":[0,10,20,30,40,50,60,70,80,90,100],"format":"d","labelExpr":"datum.value % 20 === 0 ? datum.label : ''","tickSize":{"condition":{"test":"datum.value % 20 === 0","value":4},"value":2}}},
      "y":{"field":"y","type":"quantitative","scale":{"domain":[-0.05,0.01],"nice":false,"zero":false},"axis":{"title":"µcal/s","titleFontSize":12,"domain":false,"tickWidth":1,"values":[0.01,0,-0.01,-0.02,-0.03,-0.04,-0.05],"format":".2f","labelExpr":"abs(round(datum.value*1000)) % 20 === 0 ? datum.label : ''","tickSize":{"condition":{"test":"abs(round(datum.value*1000)) % 20 === 0","value":4},"value":2}}}},
     "layer":[
      {"data":{"name":"base"},"mark":{"type":"line","color":"#000000","strokeWidth":1}},
      {"data":{"name":"Hs"},"mark":{"type":"rule","color":"#333333","strokeWidth":1.8},"encoding":{"y2":{"datum":0}}},
      {"data":{"name":"base"},"mark":{"type":"line","color":"#e8232a","strokeWidth":1.2,"strokeDash":[2,2]}},
      {"data":{"name":"Hl"},"transform":[{"filter":"datum.k === 'm'"}],"mark":{"type":"text","align":"left","baseline":"alphabetic","fontSize":15,"color":"#000000"},"encoding":{"text":{"field":"txt","type":"nominal"}}},
      {"data":{"name":"Hl"},"transform":[{"filter":"datum.k === 's'"}],"mark":{"type":"text","align":"left","baseline":"alphabetic","fontSize":9.5,"color":"#000000"},"encoding":{"text":{"field":"txt","type":"nominal"}}},
      {"data":{"name":"Hl"},"transform":[{"filter":"datum.k === 'si'"}],"mark":{"type":"text","align":"left","baseline":"alphabetic","fontSize":9.5,"fontStyle":"italic","color":"#000000"},"encoding":{"text":{"field":"txt","type":"nominal"}}}
     ]},
   {"width": 50, "height": 126, "data": {"values": []}, "mark": "point", "view": {"fill": "#ffffff", "stroke": null}},
   {"width":180,"height":126,"view":{"stroke":"#000000","strokeWidth":1},
     "data":{"name":"Gp"},
     "mark":{"type":"point","shape":"circle","filled":true,"size":36,"color":"#000000","opacity":1},
     "encoding":{
      "x":{"field":"x","type":"quantitative","scale":{"domain":[-0.07,4.25],"nice":false,"zero":false},"axis":{"title":"Molar ratio","titlePadding":0,"labelPadding":0,"domain":false,"tickWidth":1,"values":[0,0.5,1,1.5,2,2.5,3,3.5,4],"format":"d","labelExpr":"datum.value % 1 === 0 ? datum.label : ''","tickSize":{"condition":{"test":"datum.value % 1 === 0","value":2.5},"value":1.5}}},
      "y":{"field":"y","type":"quantitative","scale":{"domain":[-1.0,0.2],"nice":false,"zero":false},"axis":{"title":"kcal mol⁻¹ of injectant","titleFontSize":12,"domain":false,"tickWidth":1,"values":[0.15,0,-0.15,-0.3,-0.45,-0.6,-0.75,-0.9],"format":".1f","labelExpr":"abs(round(datum.value*100)) % 30 === 0 ? datum.label : ''","tickSize":{"condition":{"test":"abs(round(datum.value*100)) % 30 === 0","value":4},"value":2}}}}},
   {"width": 90, "height": 126, "data": {"values": []}, "mark": "point"},
   {"width":180,"height":126,"view":{"stroke":"#000000","strokeWidth":1},
     "encoding":{
      "x":{"field":"x","type":"quantitative","scale":{"domain":[-0.09,2.68],"nice":false,"zero":false},"axis":{"title":"Molar ratio","titlePadding":0,"labelPadding":0,"domain":false,"tickWidth":1,"values":[0,0.5,1,1.5,2,2.5],"format":"d","labelExpr":"datum.value % 1 === 0 ? datum.label : ''","tickSize":{"condition":{"test":"datum.value % 1 === 0","value":2.5},"value":1.5}}},
      "y":{"field":"y","type":"quantitative","scale":{"domain":[-1.0,-0.07],"nice":false,"zero":false},"axis":{"title":"kcal mol⁻¹ of injectant","titleFontSize":12,"domain":false,"tickWidth":1,"values":[-0.15,-0.3,-0.45,-0.6,-0.75,-0.9],"format":".1f","labelExpr":"abs(round(datum.value*100)) % 30 === 0 ? datum.label : ''","tickSize":{"condition":{"test":"abs(round(datum.value*100)) % 30 === 0","value":4},"value":2}}}},
     "layer":[
      {"data":{"name":"Hfit"},"mark":{"type":"line","color":"#e8232a","strokeWidth":2.5,"interpolate":"monotone"}},
      {"data":{"name":"Hp"},"mark":{"type":"point","shape":"circle","filled":true,"size":36,"color":"#000000","opacity":1}},
      {"data":{"name":"Hkd"},"transform":[{"filter":"datum.k === 'm'"}],"mark":{"type":"text","align":"left","baseline":"alphabetic","fontSize":15,"color":"#000000"},"encoding":{"text":{"field":"txt","type":"nominal"}}},
      {"data":{"name":"Hkd"},"transform":[{"filter":"datum.k === 'i'"}],"mark":{"type":"text","align":"left","baseline":"alphabetic","fontSize":15,"fontStyle":"italic","color":"#000000"},"encoding":{"text":{"field":"txt","type":"nominal"}}},
      {"data":{"name":"Hkd"},"transform":[{"filter":"datum.k === 's'"}],"mark":{"type":"text","align":"left","baseline":"alphabetic","fontSize":9.5,"color":"#000000"},"encoding":{"text":{"field":"txt","type":"nominal"}}}
     ]}
  ], "columns": 4, "spacing": {"row": 0, "column": 60}, "bounds": "flush"}
],
"spacing": 9
}
